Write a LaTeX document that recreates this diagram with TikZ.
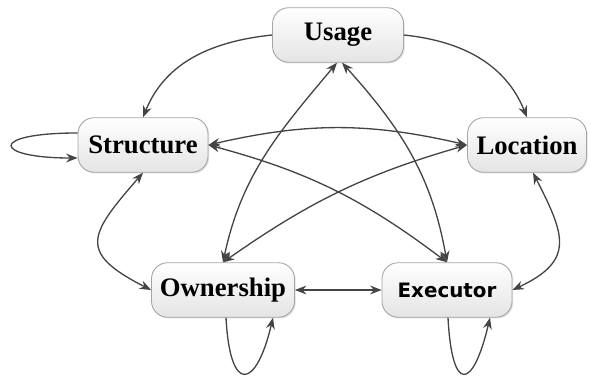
\documentclass[tikz,border=0pt]{standalone}
\usepackage{fontspec}
\setmainfont{Liberation Serif}
\newfontfamily\boxsans{DejaVu Sans}
\definecolor{linkgray}{RGB}{68,68,68}
\definecolor{boxedge}{RGB}{165,165,165}
\definecolor{boxfill}{RGB}{228,228,228}
\usetikzlibrary{arrows.meta,calc,shadows}

\begin{document}
\begin{tikzpicture}[x=0.02cm, y=0.02cm,
        >={Stealth[length=6.5pt,width=5pt]},
        catbox/.style={rectangle, rounded corners=0.32cm, draw=boxedge, line width=0.5pt,
                       top color=white, bottom color=boxfill,
                       drop shadow={shadow xshift=0.7pt, shadow yshift=-0.7pt, opacity=0.25},
                       minimum height=1.09cm, align=center,
                       font=\fontsize{15.2}{18}\selectfont\bfseries},
        link/.style={draw=linkgray, line width=0.75pt}
      ]
        \useasboundingbox (0,0) rectangle (591,375);

        \node[catbox, minimum width=2.62cm] (usage)     at (338,340) {Usage};
        \node[catbox, minimum width=2.60cm] (structure) at (143,230) {Structure};
        \node[catbox, minimum width=2.38cm] (location)  at (527,230) {Location};
        \node[catbox, minimum width=2.86cm] (ownership) at (223,85)  {Ownership};
        \node[catbox, minimum width=2.60cm, font=\boxsans\fontsize{11.3}{14}\selectfont\bfseries]
              (executor) at (447,85) {Executor};

        % outer ring
        \draw[link, ->] (usage.west) to[out=186, in=68] (structure.north);
        \draw[link, ->] (usage.east) to[out=-6, in=112] (location.north);
        \draw[link, <->] (structure.south) to[out=229, in=153, looseness=1.8] (ownership.west);
        \draw[link, <->] ($(location.south)+(6,0)$) to[out=-63, in=25, looseness=1.5] (executor.east);
        \draw[link, <->] (ownership.east) -- (executor.west);

        % star in the middle
        \draw[link, <->] (structure.east) to[out=13, in=167] (location.west);
        \draw[link, <->] (structure.east) to[out=-15, in=143] (executor.north);
        \draw[link, <->] (location.west) to[out=196, in=35] (ownership.north);
        \draw[link, <->] (ownership.north) to[out=78, in=-130] ($(usage.south)+(-1,0)$);
        \draw[link, <->] ($(usage.south)+(4,0)$) to[out=-48, in=100] (executor.north);

        % self loops
        \draw[link, ->] ($(structure.west)+(0,12)$) .. controls +(-90,0) and +(-85,0) .. ($(structure.west)+(0,-13)$);
        \draw[link, ->] ($(ownership.south)+(3,0)$) .. controls +(4,-77) and +(-17,-72) .. ($(ownership.south)+(50,0)$);
        \draw[link, ->] ($(executor.south)+(1,0)$) .. controls +(4,-77) and +(-17,-72) .. ($(executor.south)+(43,0)$);
      \end{tikzpicture}
\end{document}
